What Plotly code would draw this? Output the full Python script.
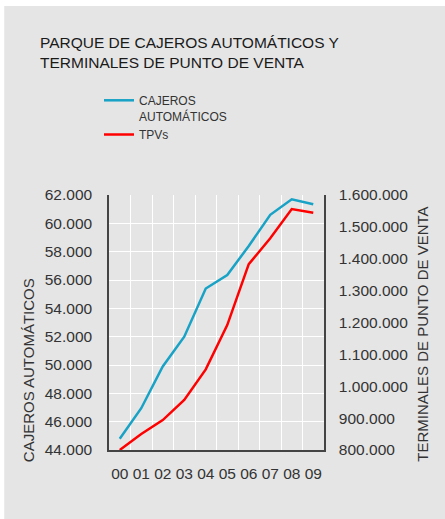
import plotly.graph_objects as go

# ---- data ----
years = ["00", "01", "02", "03", "04", "05", "06", "07", "08", "09"]
cajeros = [44800, 46950, 49900, 52000, 55400, 56350, 58400, 60600, 61700, 61350]
tpvs = [800000, 850000, 894000, 957000, 1053000, 1192000, 1383000, 1464000, 1556000, 1544000]

title_text = "PARQUE DE CAJEROS AUTOMÁTICOS Y<br>TERMINALES DE PUNTO DE VENTA"
name_cajeros = "CAJEROS<br>AUTOMÁTICOS"
name_tpvs = "TPVs"
left_title = "CAJEROS AUTOMÁTICOS"
right_title = "TERMINALES DE PUNTO DE VENTA"

W, H = 445, 519
ML, MR, MT, MB = 109, 120.5, 195, 69
pw = W - ML - MR
ph = H - MT - MB

def px_x(x):
    return (x - ML) / pw

def px_y(y):
    return (H - MB - y) / ph

BG = "#e5e5e5"
BLUE = "#17a2c6"
RED = "#ff0000"
FONT = "Liberation Sans, Arial, sans-serif"
TXT = "#333333"

fig = go.Figure()
fig.add_trace(go.Scatter(x=years, y=cajeros, name=name_cajeros, mode="lines",
                         line=dict(color=BLUE, width=2.5), cliponaxis=False, yaxis="y"))
fig.add_trace(go.Scatter(x=years, y=tpvs, name=name_tpvs, mode="lines",
                         line=dict(color=RED, width=2.5), cliponaxis=False, yaxis="y2"))

fig.update_layout(
    width=W, height=H,
    margin=dict(l=ML, r=MR, t=MT, b=MB, autoexpand=False),
    paper_bgcolor="white",
    plot_bgcolor=BG,
    separators=",.",
    font=dict(family=FONT, size=15, color=TXT),
    title=dict(text=title_text, x=40 / W, xanchor="left", xref="container",
               y=1 - 48 / H, yanchor="top", yref="container",
               font=dict(family=FONT, size=15.5, color="#1a1a1a")),
    showlegend=True,
    legend=dict(x=99 / W, xref="container", xanchor="left",
                y=1 - 86 / H, yref="container", yanchor="top",
                bgcolor="rgba(0,0,0,0)", font=dict(size=12, color=TXT),
                tracegroupgap=0, valign="top", itemwidth=30),
    xaxis=dict(type="category", tickson="boundaries", showgrid=True, gridcolor="white",
               gridwidth=1, showline=True, linecolor="#444444", linewidth=1.5,
               ticks="", tickangle=0, ticklabelstandoff=9,
               tickfont=dict(size=15.5, color=TXT), zeroline=False,
               range=[-0.5, 9.5], automargin=False),
    yaxis=dict(range=[44000, 62000], dtick=2000, tickformat=",d", showgrid=True,
               gridcolor="white", gridwidth=1, showline=True, linecolor="#444444",
               linewidth=1.5, ticks="outside", ticklen=12, tickcolor="rgba(0,0,0,0)",
               tickfont=dict(size=15.5, color=TXT), zeroline=False, automargin=False),
    yaxis2=dict(range=[800000, 1600000], dtick=100000, tickformat=",d", overlaying="y",
                side="right", showgrid=False, showline=True, linecolor="#444444",
                linewidth=1.5, ticks="outside", ticklen=10, tickcolor="rgba(0,0,0,0)",
                tickfont=dict(size=15.5, color=TXT), zeroline=False, automargin=False),
    shapes=[dict(type="rect", xref="paper", yref="paper", layer="below",
                 x0=px_x(4), x1=px_x(W + 5), y0=px_y(H + 5), y1=px_y(6),
                 fillcolor=BG, line=dict(width=0))],
    annotations=[
        dict(text=left_title, textangle=-90, xref="paper", yref="paper",
             x=px_x(28), y=px_y(464), xanchor="center", yanchor="bottom",
             showarrow=False, font=dict(size=15, color=TXT)),
        dict(text=right_title, textangle=-90, xref="paper", yref="paper",
             x=px_x(423), y=px_y(464), xanchor="center", yanchor="bottom",
             showarrow=False, font=dict(size=15, color=TXT)),
    ],
)

fig.write_html("out.html", config={"displayModeBar": False},
               post_script="document.body.style.margin='0';document.body.style.overflow='hidden';")
